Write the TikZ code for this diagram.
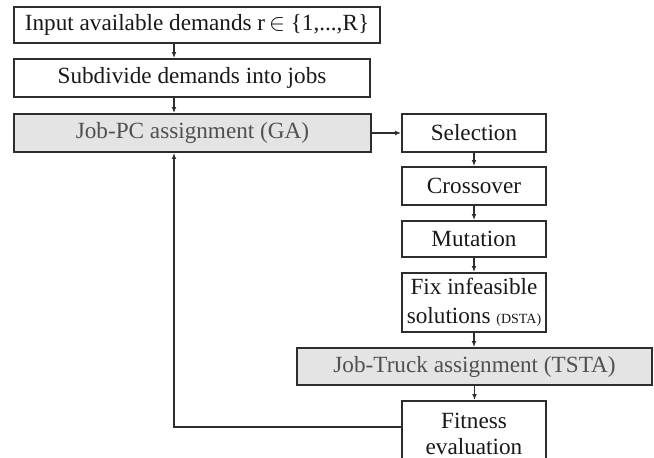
\documentclass[tikz,border=0pt]{standalone}
\usepackage{fontspec}
\setmainfont{Liberation Serif}
\usetikzlibrary{positioning,arrows.meta}
\definecolor{linegray}{RGB}{45,45,45}
\definecolor{fillgray}{RGB}{228,228,228}
\definecolor{textgray}{RGB}{80,80,80}
\tikzset{
    block/.style={draw=linegray, line width=0.95pt, fill=white, text=black!90,
        align=center, inner sep=0pt, font=\fontsize{11.6}{13}\selectfont},
    shaded/.style={block, fill=fillgray, text=textgray},
    flow/.style={draw=linegray, line width=0.6pt, -{Latex[length=3pt,width=2.4pt]}}
}

\begin{document}
\begin{tikzpicture}[x=0.5pt,y=-0.5pt]
\clip (0,0) rectangle (654,458);
\coordinate (lx) at (174,0);

% left column
\node[block, minimum width=183pt, minimum height=18pt] (input) at (197,25)
    {Input available demands r\,$\in$\ \{1,...,R\}};
\node[block, minimum width=178pt, minimum height=19pt] (split) at (192,78)
    {Subdivide demands into jobs};
\node[shaded, minimum width=178.5pt, minimum height=19pt] (ga) at (192.5,133)
    {Job-PC assignment (GA)};

% right column
\node[block, minimum width=72pt, minimum height=19pt] (sel) at (474,133) {Selection};
\node[block, minimum width=72pt, minimum height=19pt] (cross) at (474,186) {Crossover};
\node[block, minimum width=72pt, minimum height=18pt] (mut) at (474,239) {Mutation};
\node[block, minimum width=72pt, minimum height=29.5pt] (fix) at (474,302.5)
    {Fix infeasible\\[1.5pt]solutions {\fontsize{7}{8}\selectfont(DSTA)}};
\node[shaded, minimum width=177.5pt, minimum height=18.5pt] (tsta) at (474.5,366.5)
    {Job-Truck assignment (TSTA)};
\node[block, minimum width=72pt, minimum height=33pt] (fit) at (474,434)
    {Fitness\\evaluation};

\draw[flow] (input.south -| lx) -- (split.north -| lx);
\draw[flow] (split.south -| lx) -- (ga.north -| lx);
\draw[flow] (ga.east) -- (sel.west);
\foreach \a/\b in {sel/cross,cross/mut,mut/fix,fix/tsta,tsta/fit}
    \draw[flow] (\a.south) -- (\b.north -| \a.south);
\draw[flow] ([yshift=3.5pt]fit.west) -| (ga.south -| lx);
\end{tikzpicture}
\end{document}
